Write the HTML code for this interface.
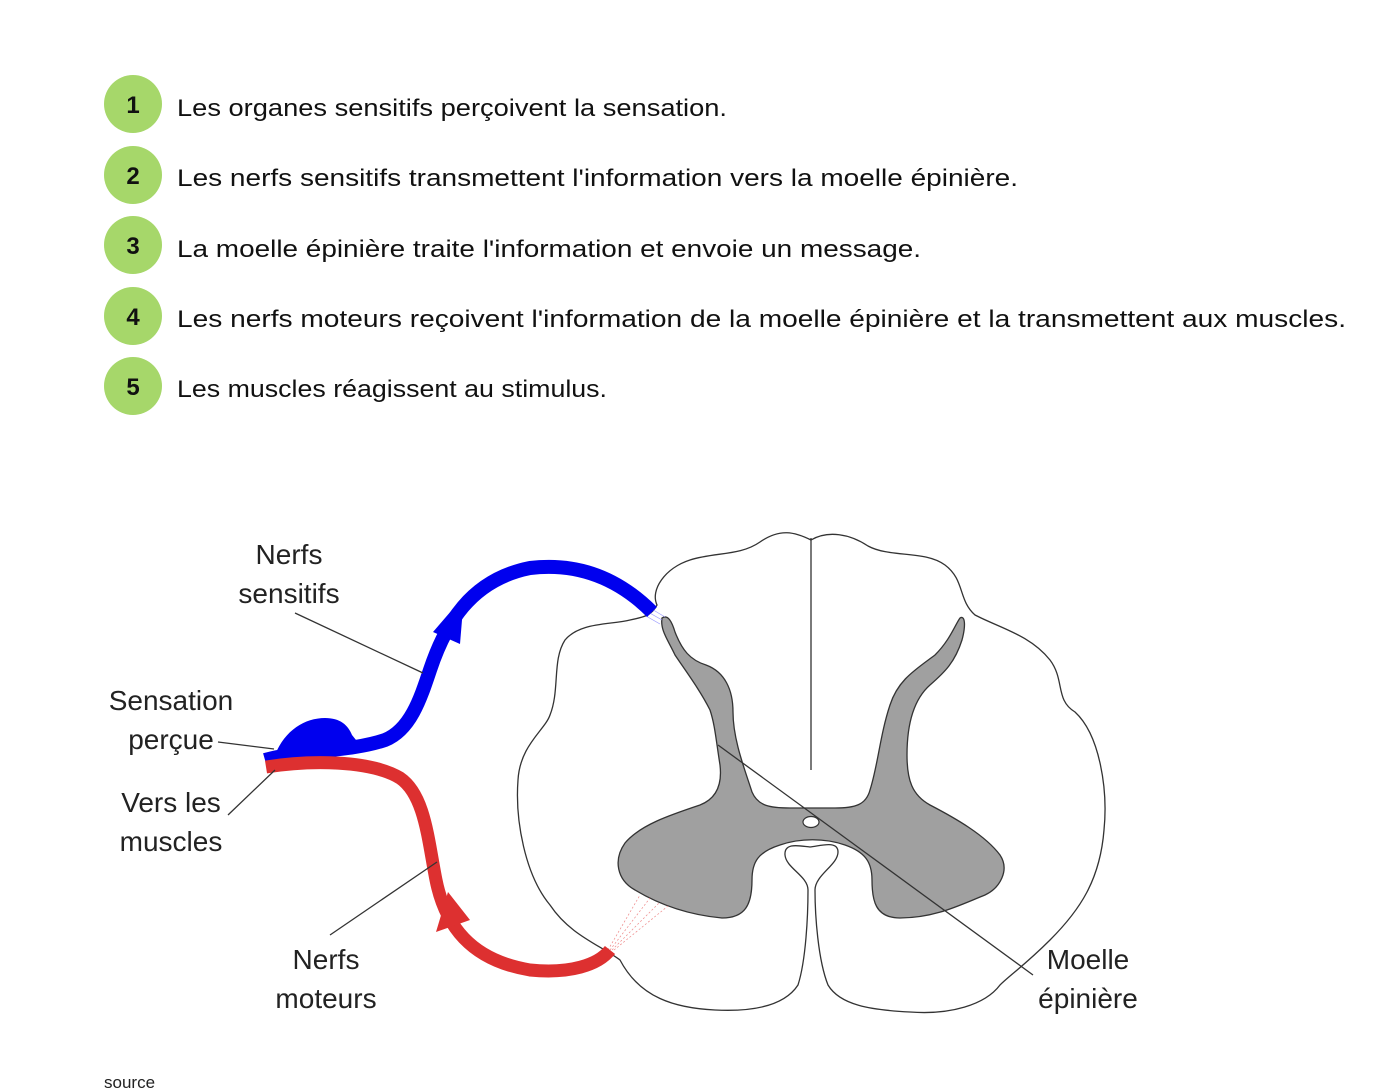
<!DOCTYPE html>
<html><head><meta charset="utf-8"><style>
html,body{margin:0;padding:0;background:#fff;width:1384px;height:1088px;overflow:hidden}
svg{display:block}
</style></head><body>
<svg width="1384" height="1088" viewBox="0 0 1384 1088" xmlns="http://www.w3.org/2000/svg" font-family="Liberation Sans, sans-serif">
<g fill="#a6d76a">
<circle cx="133" cy="104" r="29"/><circle cx="133" cy="175" r="29"/><circle cx="133" cy="245" r="29"/><circle cx="133" cy="316" r="29"/><circle cx="133" cy="386" r="29"/>
</g>
<g font-weight="bold" font-size="24" text-anchor="middle" fill="#111">
<text x="133" y="113">1</text><text x="133" y="184">2</text><text x="133" y="254">3</text><text x="133" y="325">4</text><text x="133" y="395">5</text>
</g>
<g font-size="24" fill="#111">
<text x="177" y="116" textLength="550" lengthAdjust="spacingAndGlyphs">Les organes sensitifs perçoivent la sensation.</text>
<text x="177" y="186" textLength="841" lengthAdjust="spacingAndGlyphs">Les nerfs sensitifs transmettent l'information vers la moelle épinière.</text>
<text x="177" y="257" textLength="744" lengthAdjust="spacingAndGlyphs">La moelle épinière traite l'information et envoie un message.</text>
<text x="177" y="327" textLength="1169" lengthAdjust="spacingAndGlyphs">Les nerfs moteurs reçoivent l'information de la moelle épinière et la transmettent aux muscles.</text>
<text x="177" y="397" textLength="430" lengthAdjust="spacingAndGlyphs">Les muscles réagissent au stimulus.</text>
</g>
<text x="104" y="1088" font-size="17" fill="#222">source</text>

<path d="M657,605 C650,590 665,568 690,560 C715,552 740,556 760,542 C780,528 795,532 811,540 C828,530 850,534 868,546 C890,558 925,550 945,565 C965,580 958,600 975,615 C1000,628 1030,635 1050,660 C1065,680 1055,700 1075,712 C1100,735 1108,790 1104,830 C1100,880 1080,910 1050,940 C1025,965 1010,975 1000,985 C985,1005 950,1015 910,1012 C870,1010 840,1005 828,985 C818,960 815,915 815,890 C815,875 838,865 838,852 C838,840 820,846 810,847 C800,846 784,842 785,855 C786,868 808,876 808,890 C808,915 806,960 798,985 C785,1005 755,1012 715,1010 C675,1008 640,998 620,960 C600,945 570,935 550,905 C525,875 515,820 518,780 C520,745 545,730 550,715 C560,690 552,660 565,640 C580,622 610,625 630,620 C645,617 652,615 657,605 Z" fill="#fff" stroke="#333" stroke-width="1.3"/>
<line x1="811" y1="538" x2="811" y2="770" stroke="#333" stroke-width="1.3"/>
<path d="M662,618 C668,614 672,622 675,632 C682,650 690,660 706,665 C725,672 733,690 733,712 C733,740 745,770 752,792 C758,806 770,808 790,808 L835,808 C855,808 866,805 870,790 C878,765 880,735 890,705 C898,680 915,670 935,655 C950,640 955,625 960,618 C965,615 966,625 962,640 C955,662 945,672 930,685 C913,700 907,725 907,755 C907,780 912,795 930,805 C955,818 985,835 1000,855 C1010,870 1000,888 985,895 C960,905 935,918 900,918 C875,918 872,900 872,880 C872,862 865,852 845,845 C825,838 800,838 780,845 C758,852 752,862 752,880 C752,905 745,918 722,918 C690,915 660,905 635,890 C617,880 613,860 625,843 C640,825 670,815 700,805 C718,798 722,782 720,765 C716,740 715,725 710,710 C700,690 685,670 675,655 C668,640 660,630 662,618 Z" fill="#a0a0a0" stroke="#333" stroke-width="1.3"/>
<ellipse cx="811" cy="822" rx="8" ry="5.5" fill="#fff" stroke="#333" stroke-width="1.2"/>
<g stroke="#99f" stroke-width="0.7"><line x1="648" y1="612" x2="662" y2="620"/><line x1="650" y1="608" x2="665" y2="617"/><line x1="646" y1="616" x2="660" y2="624"/></g>
<g stroke="#e88" stroke-width="0.7" stroke-dasharray="2,2"><line x1="608" y1="950" x2="640" y2="895"/><line x1="610" y1="950" x2="650" y2="898"/><line x1="612" y1="950" x2="660" y2="902"/><line x1="614" y1="950" x2="668" y2="906"/></g>
<path d="M265,760 C300,750 350,752 385,740 C410,730 420,700 430,670 C445,625 470,580 530,568 C580,562 620,580 652,612" fill="none" stroke="#0000ee" stroke-width="14"/>
<path d="M275,755 C285,730 305,718 325,718 C340,718 348,725 352,735 L360,745 L280,760 Z" fill="#0000ee"/>
<polygon points="433,632 464,596 460,644" fill="#0000ee"/>
<path d="M266,767 C310,760 370,760 400,778 C425,795 428,840 436,880 C445,925 470,960 530,970 C570,974 598,965 610,950" fill="none" stroke="#dd3030" stroke-width="13"/>
<polygon points="436,932 448,892 470,920" fill="#dd3030"/>
<g stroke="#333" stroke-width="1.3" fill="none">
<line x1="295" y1="613" x2="423" y2="673"/>
<line x1="218" y1="742" x2="274" y2="749"/>
<line x1="228" y1="815" x2="275" y2="770"/>
<line x1="330" y1="935" x2="437" y2="862"/>
<line x1="718" y1="745" x2="1033" y2="975"/>
</g>
<g font-size="28" fill="#222" text-anchor="middle">
<text x="289" y="564">Nerfs</text>
<text x="289" y="603">sensitifs</text>
<text x="171" y="710">Sensation</text>
<text x="171" y="749">perçue</text>
<text x="171" y="812">Vers les</text>
<text x="171" y="851">muscles</text>
<text x="326" y="969">Nerfs</text>
<text x="326" y="1008">moteurs</text>
<text x="1088" y="969">Moelle</text>
<text x="1088" y="1008">épinière</text>
</g>
</svg>
</body></html>
